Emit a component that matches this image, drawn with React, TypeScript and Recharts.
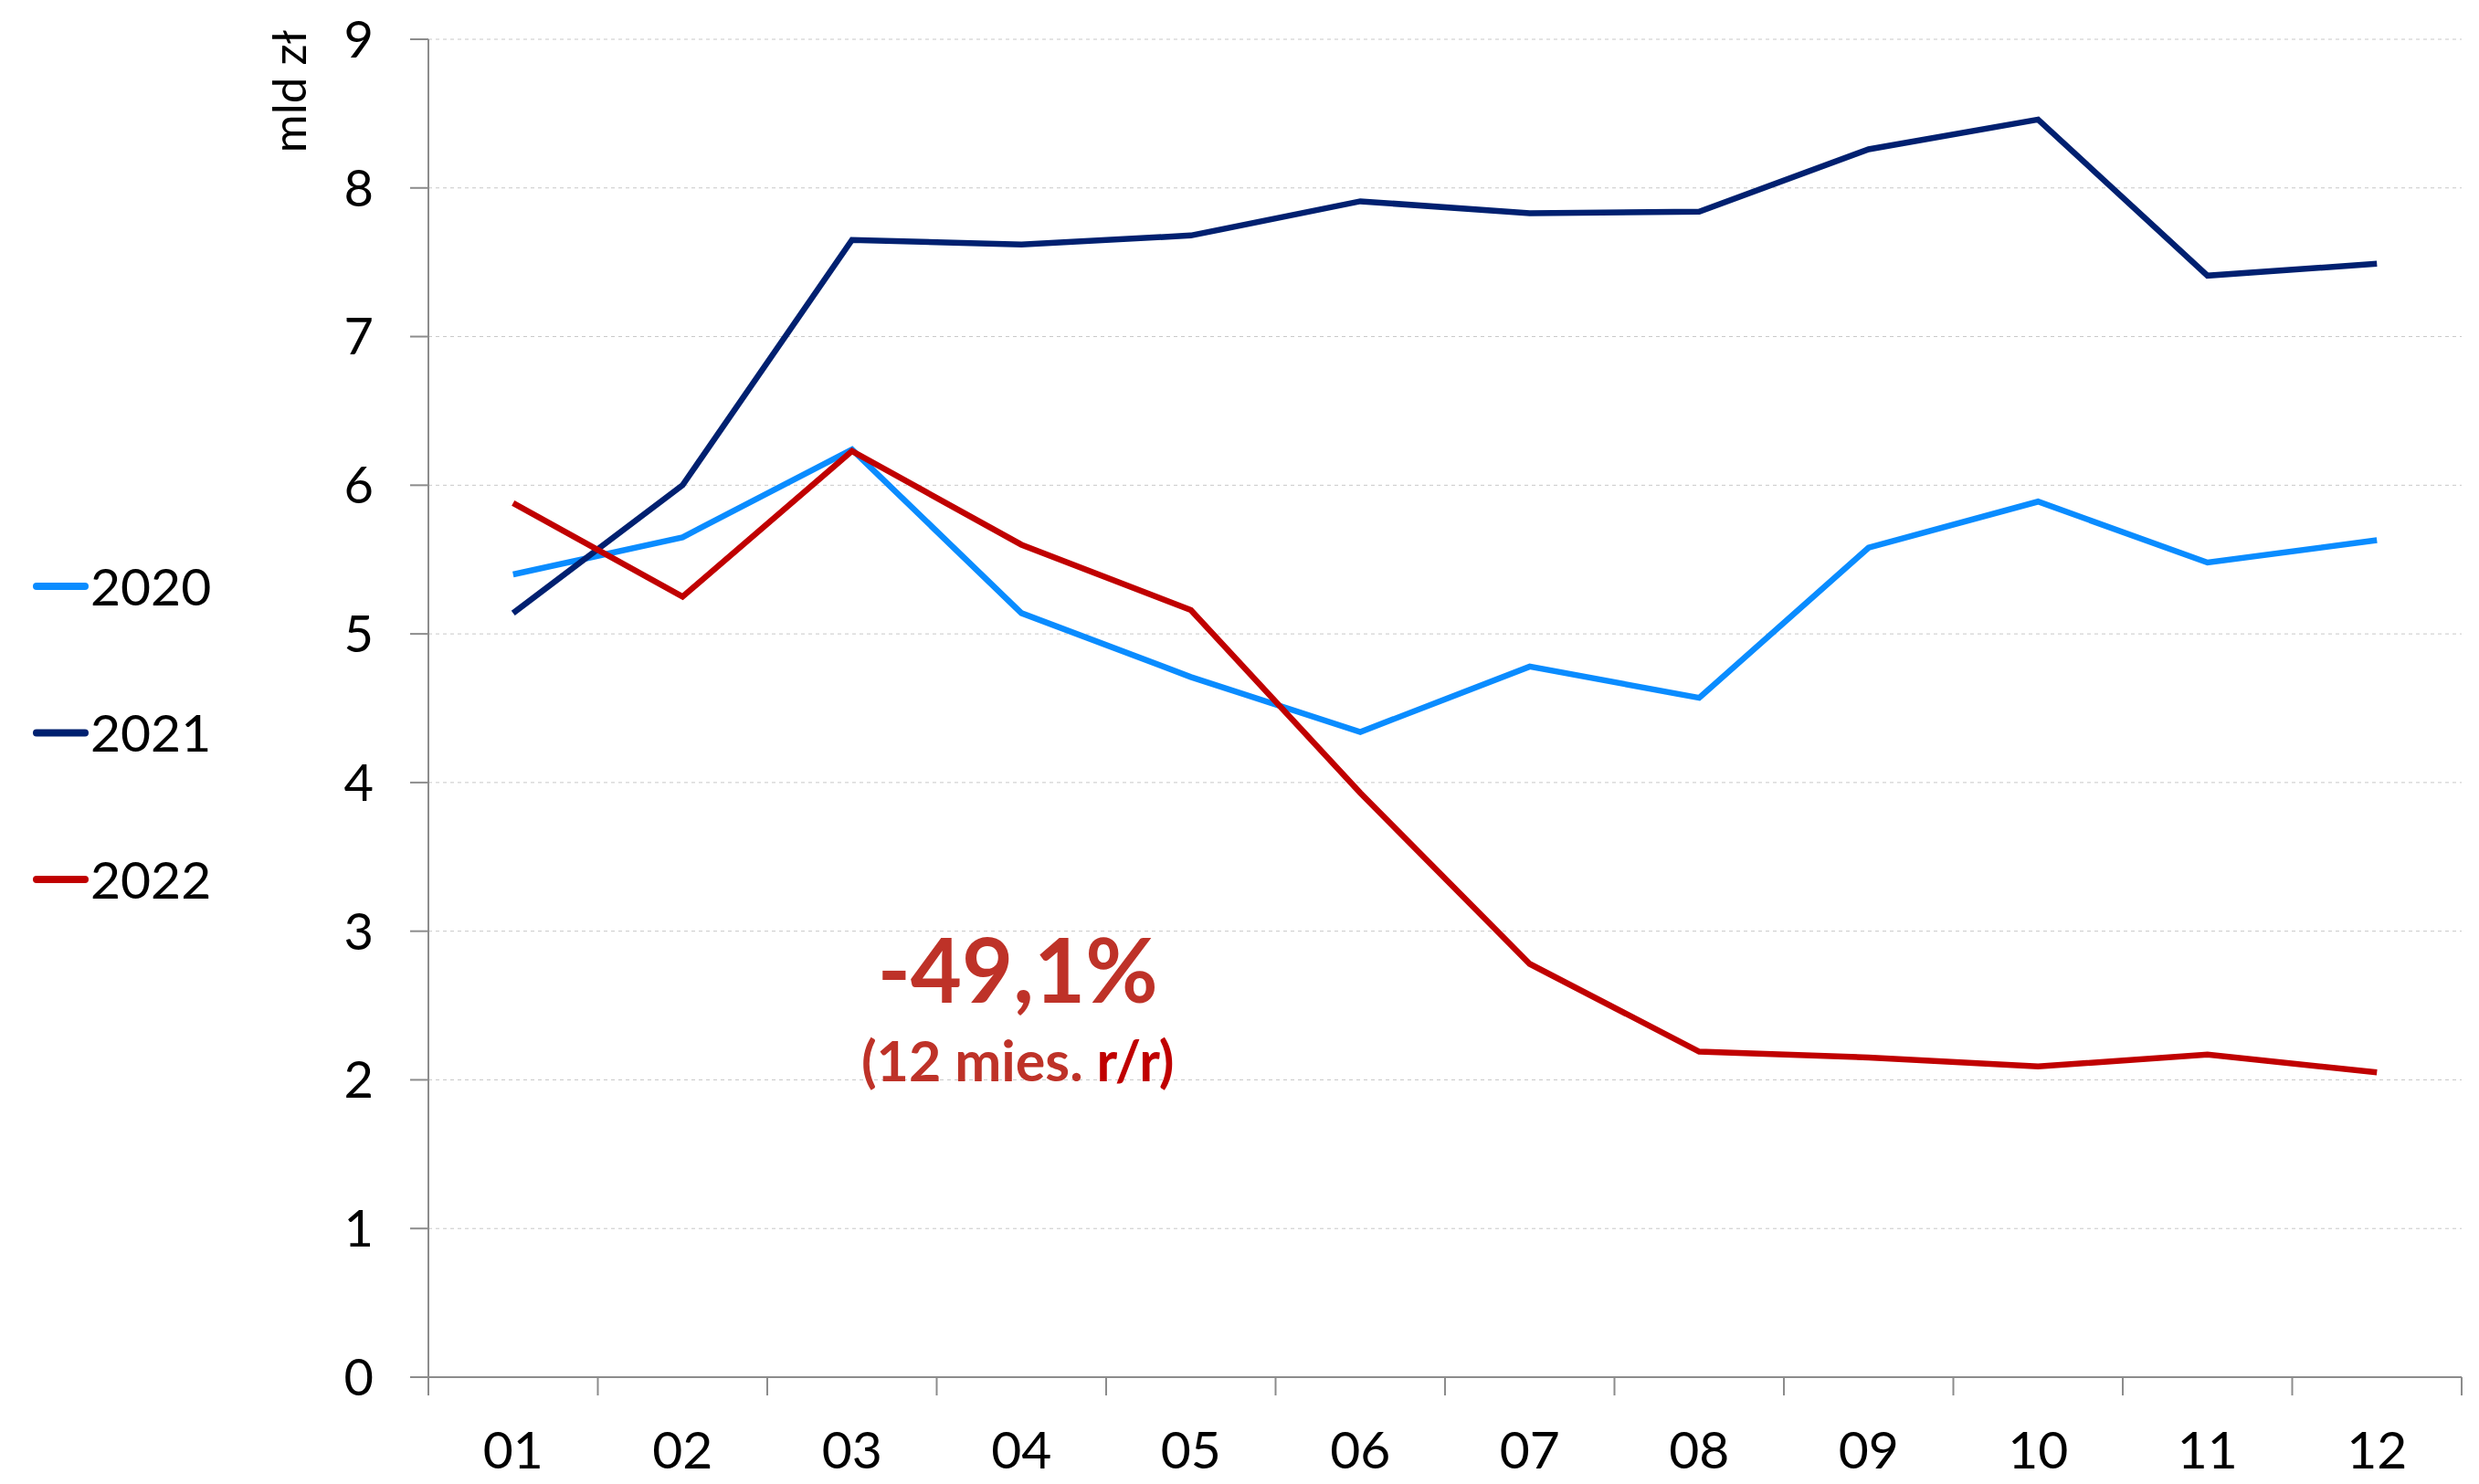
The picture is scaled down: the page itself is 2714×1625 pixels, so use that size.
import React from 'react';
import { LineChart, Line, XAxis, YAxis, CartesianGrid, ReferenceDot } from 'recharts';

// miesiące i wartości (mld zł)
const months = ['01', '02', '03', '04', '05', '06', '07', '08', '09', '10', '11', '12'];
const v2020 = [5.40, 5.65, 6.24, 5.14, 4.71, 4.34, 4.78, 4.57, 5.58, 5.89, 5.48, 5.63];
const v2021 = [5.14, 6.00, 7.65, 7.62, 7.68, 7.91, 7.83, 7.84, 8.26, 8.46, 7.41, 7.49];
const v2022 = [5.88, 5.25, 6.23, 5.60, 5.16, 3.93, 2.78, 2.19, 2.15, 2.09, 2.17, 2.05];
const yTicks = [0, 1, 2, 3, 4, 5, 6, 7, 8, 9];

const series = [
    { key: 'y2020', name: '2020', color: '#0A8CFF', values: v2020 },
    { key: 'y2021', name: '2021', color: '#002070', values: v2021 },
    { key: 'y2022', name: '2022', color: '#C00000', values: v2022 },
];

const data = months.map((m, i) => ({
    m: i + 1,
    label: m,
    y2020: v2020[i],
    y2021: v2021[i],
    y2022: v2022[i],
}));

// tick marks at category borders, labels at centers
const xTicks: number[] = [];
months.forEach((_, i) => {
    xTicks.push(i + 0.5);
    xTicks.push(i + 1);
});
xTicks.push(months.length + 0.5);

const FONT = 'Lato, "Open Sans", sans-serif';
const AXIS = '#8c8c8c';
const TICK_SIZE = 20;
const X_MARGIN = 40;

const XTick = (props: any) => {
    const { x, y, payload } = props;
    const v = payload.value;
    if (Number.isInteger(v)) {
        return (
            <text x={x} y={y} dy="0.71em" textAnchor="middle" fontSize={57} fontFamily={FONT} fill="#000">
                {months[v - 1]}
            </text>
        );
    }
    return <line x1={x} x2={x} y1={y - X_MARGIN - TICK_SIZE} y2={y - X_MARGIN} stroke={AXIS} strokeWidth={2} />;
};

const Annotation = (props: any) => {
    const vb = props.viewBox || {};
    const cx = vb.x + (vb.width || 0) / 2;
    const cy = vb.y + (vb.height || 0) / 2;
    return (
        <g fontFamily={FONT} fontWeight="bold" textAnchor="middle">
            <text x={cx - 4} y={cy} fontSize={97} fill="#BE3228">-49,1%</text>
            <text x={cx - 4} y={cy + 86} fontSize={61} fill="#BE3228">
                (12 mies. <tspan fill="#C00000">r/r)</tspan>
            </text>
        </g>
    );
};

const UnitLabel = (props: any) => {
    const vb = props.viewBox || {};
    const x = vb.x + 335;
    const y = vb.y + 57;
    return (
        <text x={x} y={y} transform={`rotate(-90 ${x} ${y})`} textAnchor="middle" fontSize={51}
            fontFamily={FONT} fill="#000">
            mld zł
        </text>
    );
};

export default function App() {
    return (
        <div style={{ position: 'absolute', left: 0, top: 0, width: 2714, height: 1625, background: '#fff', fontFamily: FONT }}>
            <LineChart width={2714} height={1625} data={data} margin={{ top: 43, right: 19, left: 0, bottom: 0 }}>
                <CartesianGrid vertical={false} stroke="#c8c8c8" strokeDasharray="4 4" />
                <XAxis
                    dataKey="m"
                    type="number"
                    domain={[0.5, 12.5]}
                    ticks={xTicks}
                    interval={0}
                    height={117}
                    tickLine={false}
                    tickSize={TICK_SIZE}
                    tickMargin={X_MARGIN}
                    axisLine={{ stroke: AXIS, strokeWidth: 2 }}
                    tick={<XTick />}
                />
                <YAxis
                    type="number"
                    domain={[0, 9]}
                    ticks={yTicks}
                    interval={0}
                    width={469}
                    tickSize={TICK_SIZE}
                    tickMargin={40}
                    tickLine={{ stroke: AXIS, strokeWidth: 2 }}
                    axisLine={{ stroke: AXIS, strokeWidth: 2 }}
                    tick={{ fontSize: 56, fill: '#000', fontFamily: FONT }}
                    label={{ content: <UnitLabel /> }}
                />
                {series.map((s) => (
                    <Line
                        key={s.key}
                        dataKey={s.key}
                        name={s.name}
                        stroke={s.color}
                        strokeWidth={6.5}
                        dot={false}
                        activeDot={false}
                        isAnimationActive={false}
                    />
                ))}
                <ReferenceDot x={4} y={2.52} r={1} fill="none" stroke="none" label={<Annotation />} />
            </LineChart>
            <svg width={280} height={620} style={{ position: 'absolute', left: 0, top: 480 }}>
                {series.map((s, i) => {
                    const cy = 162 + i * 160.5;
                    return (
                        <g key={s.key}>
                            <line x1={40} x2={93} y1={cy} y2={cy} stroke={s.color} strokeWidth={8} strokeLinecap="round" />
                            <text x={99} y={cy} dy="0.36em" fontSize={57} fontFamily={FONT} fill="#000">{s.name}</text>
                        </g>
                    );
                })}
            </svg>
        </div>
    );
}
